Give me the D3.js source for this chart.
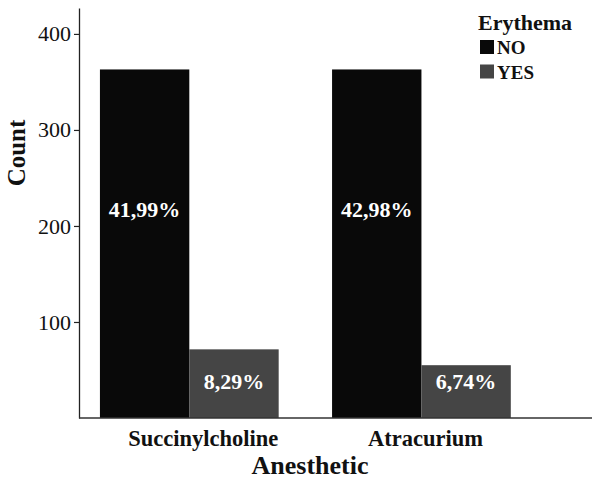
<!DOCTYPE html>
<html>
<head>
<meta charset="utf-8">
<script src="https://cdn.jsdelivr.net/npm/d3@7"></script>
<style>
  html, body { margin: 0; padding: 0; background: #fff; }
  svg { display: block; }
  svg text { font-family: "Liberation Serif", "Times New Roman", Times, serif !important; }
</style>
</head>
<body>
<svg id="chart" width="602" height="484"></svg>
<script>
// ---- data ----
const categories = ["Succinylcholine", "Atracurium"];
const series = ["NO", "YES"];
const countNO = [363, 363];
const countYES = [71.5, 55];
const pctNO = ["41,99%", "42,98%"];
const pctYES = ["8,29%", "6,74%"];
const yTicks = [100, 200, 300, 400];

const colors = { NO: "#090909", YES: "#454545" };

const svg = d3.select("#chart");

const x = d3.scaleBand().domain(categories).range([79, 592])
  .paddingInner(0.23).paddingOuter(0.22).align(0.205);
const xs = d3.scaleBand().domain(series).range([0, x.bandwidth()]).padding(0);
const y = d3.scaleLinear().domain([0, 427]).range([418, 8]);

const rows = categories.map((c, i) => ({
  cat: c,
  vals: [
    { s: "NO", v: countNO[i], pct: pctNO[i] },
    { s: "YES", v: countYES[i], pct: pctYES[i] }
  ]
}));

// bars
const g = svg.append("g");
const grp = g.selectAll("g.grp").data(rows).join("g")
  .attr("transform", d => `translate(${x(d.cat)},0)`);
grp.selectAll("rect").data(d => d.vals).join("rect")
  .attr("x", d => xs(d.s))
  .attr("y", d => y(d.v))
  .attr("width", xs.bandwidth())
  .attr("height", d => y(0) - y(d.v))
  .attr("fill", d => colors[d.s]);

// percent labels (anchored at fixed count levels per series)
const labelAnchor = { NO: 217, YES: 37.5 };
grp.selectAll("text.pct").data(d => d.vals).join("text")
  .attr("class", "pct")
  .attr("x", d => xs(d.s) + xs.bandwidth() / 2)
  .attr("y", d => y(labelAnchor[d.s]))
  .attr("dy", "0.34em")
  .attr("text-anchor", "middle")
  .attr("fill", "#fff")
  .attr("font-weight", "bold")
  .attr("font-size", 22)
  .text(d => d.pct);

// y axis
const yAxis = d3.axisLeft(y).tickValues(yTicks).tickSize(5).tickSizeOuter(0).tickPadding(3);
const ya = svg.append("g").attr("transform", "translate(79,0)").call(yAxis);
ya.select(".domain").attr("stroke", "#222").attr("stroke-width", 1.3);
ya.selectAll(".tick line").attr("stroke", "#222").attr("stroke-width", 1.2);
ya.selectAll(".tick text")
  .attr("font-size", 22).attr("fill", "#111");

// x axis line
svg.append("line")
  .attr("x1", x.range()[0]).attr("x2", x.range()[1])
  .attr("y1", y(0)).attr("y2", y(0))
  .attr("stroke", "#333").attr("stroke-width", 1.6);

// category labels
const catNudge = [14, 4];
svg.selectAll("text.cat").data(categories).join("text")
  .attr("class", "cat")
  .attr("x", (d, i) => x(d) + x.bandwidth() / 2 + catNudge[i])
  .attr("y", 446)
  .attr("text-anchor", "middle")
  .attr("font-weight", "bold")
  .attr("font-size", 22.5)
  .attr("fill", "#111")
  .text(d => d);

// axis titles
svg.append("text")
  .attr("x", 310).attr("y", 474)
  .attr("text-anchor", "middle")
  .attr("font-weight", "bold").attr("font-size", 26).attr("fill", "#111")
  .text("Anesthetic");
svg.append("text")
  .attr("transform", "translate(25,153) rotate(-90)")
  .attr("text-anchor", "middle")
  .attr("font-weight", "bold").attr("font-size", 25).attr("fill", "#111")
  .text("Count");

// legend
const lg = svg.append("g");
lg.append("text").attr("x", 478).attr("y", 30)
  .attr("font-weight", "bold").attr("font-size", 22).attr("fill", "#111")
  .text("Erythema");
const items = lg.selectAll("g.item").data(series).join("g")
  .attr("transform", (d, i) => `translate(480,${40 + i * 24.5})`);
items.append("rect").attr("width", 14).attr("height", 14)
  .attr("fill", d => colors[d]);
items.append("text").attr("x", 17).attr("y", 14)
  .attr("font-weight", "bold").attr("font-size", 19).attr("fill", "#111")
  .text(d => d);
</script>
</body>
</html>
